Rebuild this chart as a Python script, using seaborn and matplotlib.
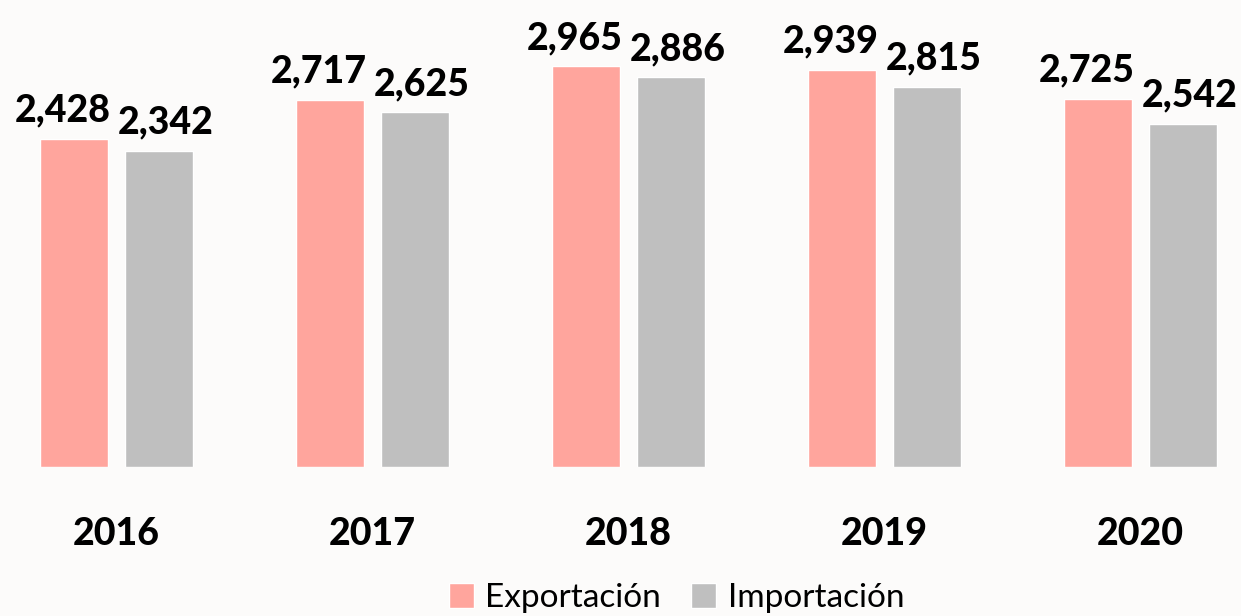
import pandas as pd
import seaborn as sns
import matplotlib.pyplot as plt

years = ['2016', '2017', '2018', '2019', '2020']
exportacion = [2428, 2717, 2965, 2939, 2725]
importacion = [2342, 2625, 2886, 2815, 2542]

df = pd.DataFrame({
    'year': years * 2,
    'value': exportacion + importacion,
    'serie': ['Exportación'] * 5 + ['Importación'] * 5,
})

bg = '#FCFBFA'
sns.set_style('white')
plt.rcParams['font.family'] = ['Lato', 'DejaVu Sans']
plt.rcParams['text.color'] = 'black'

fig = plt.figure(figsize=(12.41, 6.16), dpi=100, facecolor=bg)
ax = fig.add_axes([0, 0.2419, 1, 0.7581])
ax.set_facecolor(bg)

sns.barplot(data=df, x='year', y='value', hue='serie',
            palette=['#FFA59D', '#BFBFBF'], width=0.664, gap=0.2,
            saturation=1, ax=ax, legend=True)

# labels nudged apart so neighbours don't collide (like the original)
shifts = [-8, 5]
for c, dx in zip(ax.containers, shifts):
    for bar, v in zip(c, c.datavalues):
        ax.annotate(f'{v:,.0f}', (bar.get_x() + bar.get_width() / 2, v),
                    xytext=(dx, 8), textcoords='offset points',
                    ha='center', va='bottom', fontsize=27,
                    fontweight='black', color='black')

ax.set_ylim(0, 3457)
ax.set_xlim(-0.455, 4.393)
ax.set_yticks([])
ax.set_xlabel('')
ax.set_ylabel('')
ax.tick_params(axis='x', length=0, pad=36, labelsize=27, labelcolor='black')
for t in ax.get_xticklabels():
    t.set_fontweight('black')
sns.despine(ax=ax, left=True, bottom=True)

h, l = ax.get_legend_handles_labels()
ax.get_legend().remove()
fig.legend(h, l, loc='center', bbox_to_anchor=(0.545, 0.029), ncol=2,
           frameon=False, fontsize=24, handlelength=0.75, handleheight=0.75,
           handletextpad=0.35, columnspacing=0.9, labelcolor='black')

fig.savefig('out.png', dpi=100, facecolor=bg)
